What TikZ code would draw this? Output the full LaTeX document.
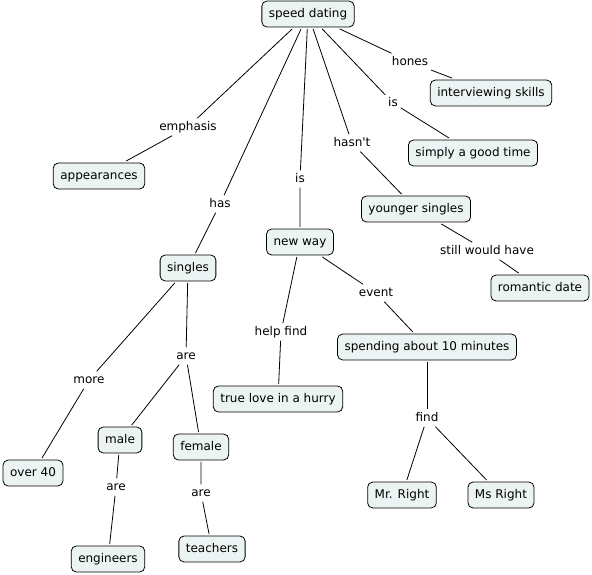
\documentclass[tikz,border=0pt]{standalone}
\usepackage{fontspec}
\setmainfont{DejaVu Sans}
\usetikzlibrary{positioning}
\definecolor{conceptfill}{RGB}{236,243,243}
\tikzset{
  concept/.style = {draw=black, fill=conceptfill, rounded corners=5pt, line width=0.8pt,
                    font=\fontsize{12}{14}\selectfont, text height=9pt, text depth=2.5pt,
                    inner xsep=7pt, inner ysep=7.2pt, outer sep=2pt},
  linkword/.style = {font=\fontsize{12}{14}\selectfont, text height=9pt, text depth=2.5pt,
                     inner sep=2pt, outer sep=1pt},
  link/.style = {draw=black, line width=0.8pt},
}

\begin{document}
\begin{tikzpicture}[x=1pt,y=-1pt]
  \useasboundingbox (0,0) rectangle (592,575);

  % concepts
  \node[concept] (speed) at (308,14) {speed dating};
  \node[concept] (skills) at (491,93) {interviewing skills};
  \node[concept] (goodtime) at (473,153) {simply a good time};
  \node[concept] (appear) at (99,176) {appearances};
  \node[concept] (younger) at (416,209) {younger singles};
  \node[concept] (newway) at (300,242) {new way};
  \node[concept] (singles) at (188,268) {singles};
  \node[concept] (romantic) at (540,288) {romantic date};
  \node[concept] (spending) at (427,347) {spending about 10 minutes};
  \node[concept] (truelove) at (278,399) {true love in a hurry};
  \node[concept] (male) at (120,440) {male};
  \node[concept] (female) at (201,447) {female};
  \node[concept] (over) at (33,473) {over 40};
  \node[concept] (mrright) at (402,495) {Mr. Right};
  \node[concept] (msright) at (501,495) {Ms Right};
  \node[concept] (engineers) at (108,559) {engineers};
  \node[concept] (teachers) at (212,549) {teachers};

  % linking words
  \node[linkword] (hones) at (410,62) {hones};
  \node[linkword] (isgood) at (393,103) {is};
  \node[linkword] (emphasis) at (188,127) {emphasis};
  \node[linkword] (hasnt) at (352,143) {hasn\textquotesingle t};
  \node[linkword] (isnew) at (300,179) {is};
  \node[linkword] (has) at (220,204) {has};
  \node[linkword] (still) at (487,251) {still would have};
  \node[linkword] (event) at (376,293) {event};
  \node[linkword] (helpfind) at (281,332) {help find};
  \node[linkword] (more) at (89,380) {more};
  \node[linkword] (aresingles) at (186,356) {are};
  \node[linkword] (find) at (427,418) {find};
  \node[linkword] (aremale) at (116,487) {are};
  \node[linkword] (arefemale) at (201,493) {are};

  % connectors
  \draw[link] (speed) -- (hones) -- (skills);
  \draw[link] (speed) -- (isgood) -- (goodtime);
  \draw[link] (speed) -- (emphasis) -- (appear);
  \draw[link] (speed) -- (hasnt) -- (younger);
  \draw[link] (speed) -- (isnew) -- (newway);
  \draw[link] (speed) -- (has) -- (singles);
  \draw[link] (younger) -- (still) -- (romantic);
  \draw[link] (newway) -- (event) -- (spending);
  \draw[link] (newway) -- (helpfind) -- (truelove);
  \draw[link] (singles) -- (more) -- (over);
  \draw[link] (singles) -- (aresingles);
  \draw[link] (aresingles) -- (male);
  \draw[link] (aresingles) -- (female);
  \draw[link] (spending) -- (find);
  \draw[link] (find) -- (mrright);
  \draw[link] (find) -- (msright);
  \draw[link] (male) -- (aremale) -- (engineers);
  \draw[link] (female) -- (arefemale) -- (teachers);
\end{tikzpicture}
\end{document}
